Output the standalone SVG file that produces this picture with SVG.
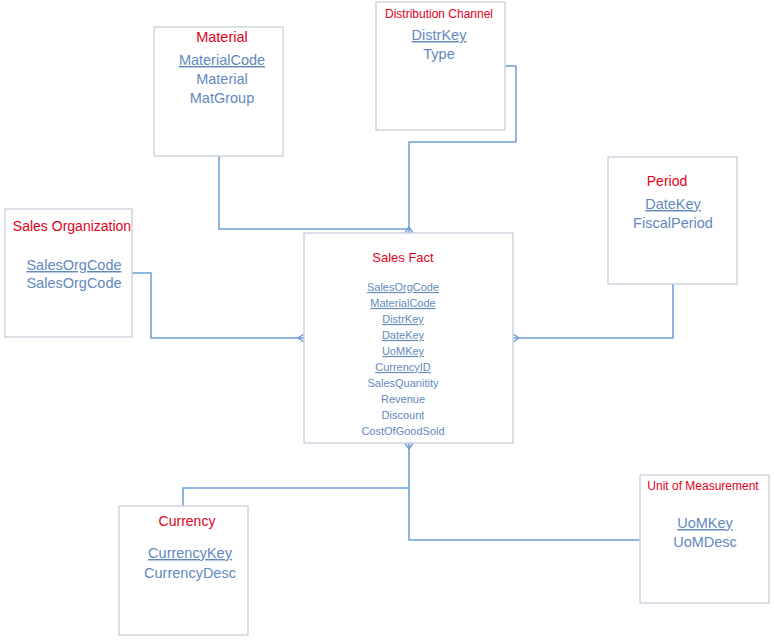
<svg xmlns="http://www.w3.org/2000/svg" width="774" height="642" viewBox="0 0 774 642">
<style>
.box{fill:#fff;stroke:#c8d0dc;stroke-width:1.3}
.t{font-family:"Liberation Sans",Arial,sans-serif;fill:#e2001a;text-anchor:middle}
.f{font-family:"Liberation Sans",Arial,sans-serif;fill:#6289bd;text-anchor:middle;font-size:14.5px}
.s{font-size:11px}
.k{text-decoration:underline}
.c{fill:none;stroke:#6b9fd6;stroke-width:1.5}
</style>
<rect width="774" height="642" fill="#fff"/>
<g id="connectors">
<path class="c" d="M219 156V229H409"/>
<path class="c" d="M505 66H516V142H409V233"/>
<path class="c" d="M132 273H151V338H304"/>
<path class="c" d="M673 284V338H513"/>
<path class="c" d="M409 443V540H640"/>
<path class="c" d="M183 506V488H409"/>
<path class="c" d="M405 233L409 227L413 233M304 334L298 338L304 342M513 334L519 338L513 342M405 443L409 449L413 443"/>
</g>
<g id="material">
<rect class="box" x="154" y="27" width="129" height="129"/>
<text class="t" x="222" y="42" font-size="14.5">Material</text>
<text class="f k" x="222" y="65">MaterialCode</text>
<text class="f" x="222" y="84">Material</text>
<text class="f" x="222" y="103">MatGroup</text>
</g>
<g id="distribution-channel">
<rect class="box" x="376" y="2" width="129" height="128"/>
<text class="t" x="439" y="18" font-size="12">Distribution Channel</text>
<text class="f k" x="439" y="40">DistrKey</text>
<text class="f" x="439" y="59">Type</text>
</g>
<g id="sales-organization">
<rect class="box" x="5" y="209" width="127" height="128"/>
<text class="t" x="72" y="231" font-size="14">Sales Organization</text>
<text class="f k" x="74" y="270">SalesOrgCode</text>
<text class="f" x="74" y="288">SalesOrgCode</text>
</g>
<g id="period">
<rect class="box" x="608" y="157" width="129" height="127"/>
<text class="t" x="667" y="186" font-size="14">Period</text>
<text class="f k" x="673" y="209">DateKey</text>
<text class="f" x="673" y="228">FiscalPeriod</text>
</g>
<g id="sales-fact">
<rect class="box" x="304" y="233" width="209" height="210"/>
<text class="t" x="403" y="262" font-size="13">Sales Fact</text>
<text class="f s k" x="403" y="291">SalesOrgCode</text>
<text class="f s k" x="403" y="307">MaterialCode</text>
<text class="f s k" x="403" y="323">DistrKey</text>
<text class="f s k" x="403" y="339">DateKey</text>
<text class="f s k" x="403" y="355">UoMKey</text>
<text class="f s k" x="403" y="371">CurrencyID</text>
<text class="f s" x="403" y="387">SalesQuanitity</text>
<text class="f s" x="403" y="403">Revenue</text>
<text class="f s" x="403" y="419">Discount</text>
<text class="f s" x="403" y="435">CostOfGoodSold</text>
</g>
<g id="currency">
<rect class="box" x="119" y="506" width="129" height="129"/>
<text class="t" x="187" y="526" font-size="14">Currency</text>
<text class="f k" x="190" y="558">CurrencyKey</text>
<text class="f" x="190" y="578">CurrencyDesc</text>
</g>
<g id="unit-of-measurement">
<rect class="box" x="640" y="475" width="129" height="128"/>
<text class="t" x="703" y="490" font-size="12">Unit of Measurement</text>
<text class="f k" x="705" y="528">UoMKey</text>
<text class="f" x="705" y="547">UoMDesc</text>
</g>
</svg>
